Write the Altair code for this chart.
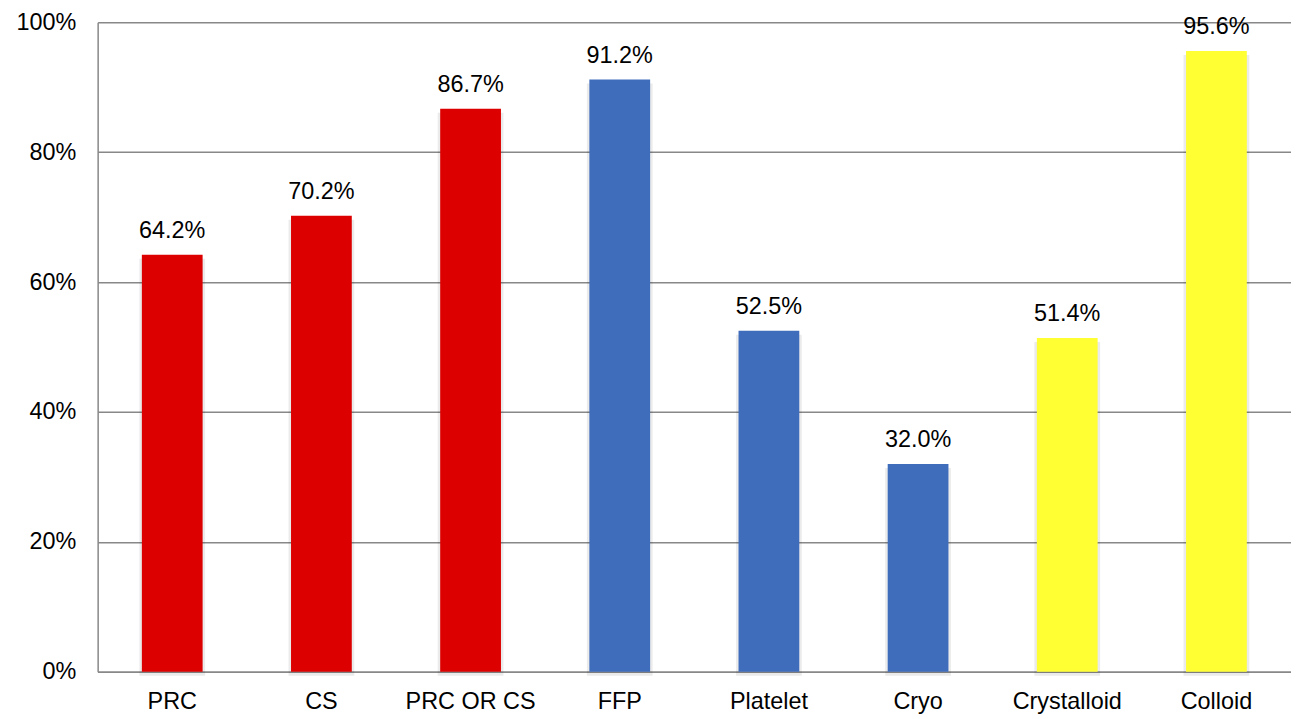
import altair as alt
import pandas as pd

categories = ["PRC", "CS", "PRC OR CS", "FFP", "Platelet", "Cryo", "Crystalloid", "Colloid"]
values = [64.2, 70.2, 86.7, 91.2, 52.5, 32.0, 51.4, 95.6]
colors = ["#DD0000", "#DD0000", "#DD0000", "#3F6DBC", "#3F6DBC", "#3F6DBC", "#FFFF33", "#FFFF33"]

df = pd.DataFrame({"cat": categories, "val": [v / 100 for v in values], "color": colors,
                   "label": [f"{v:.1f}%" for v in values]})

FONT = "Liberation Sans"
FS = 23.5

x = alt.X("cat:N", sort=categories, title=None,
          scale=alt.Scale(paddingInner=0, paddingOuter=0),
          axis=alt.Axis(labelAngle=0, labelFontSize=FS, labelFont=FONT, labelColor="#000",
                        ticks=False, domainColor="#888", domainWidth=1.5, labelPadding=18))
y = alt.Y("val:Q", title=None,
          scale=alt.Scale(domain=[0, 1]),
          axis=alt.Axis(format=".0%", values=[0, 0.2, 0.4, 0.6, 0.8, 1.0], labelFontSize=FS,
                        labelFont=FONT, labelColor="#000", ticks=False, domainColor="#888",
                        domainWidth=1.5, gridColor="#888", gridWidth=1.5, labelPadding=22))

base = alt.Chart(df)

shadow = base.mark_bar(size=66, color="#000", opacity=0.08, yOffset=4).encode(x=x, y=y)
bars = base.mark_bar(size=61).encode(x=x, y=y, color=alt.Color("color:N", scale=None))
text = base.mark_text(fontSize=FS, font=FONT, color="#000", baseline="bottom", dy=-12).encode(
    x=x, y=y, text="label:N")

chart = (shadow + bars + text).properties(
    width=1198, height=652,
    autosize=alt.AutoSizeParams(type="none"),
    padding={"left": 90, "top": 13, "right": 0, "bottom": 42},
).configure_view(stroke=None).configure_axis(grid=True).configure_axisX(grid=False)

chart.save("out.html", embed_options={"renderer": "svg", "actions": False})
